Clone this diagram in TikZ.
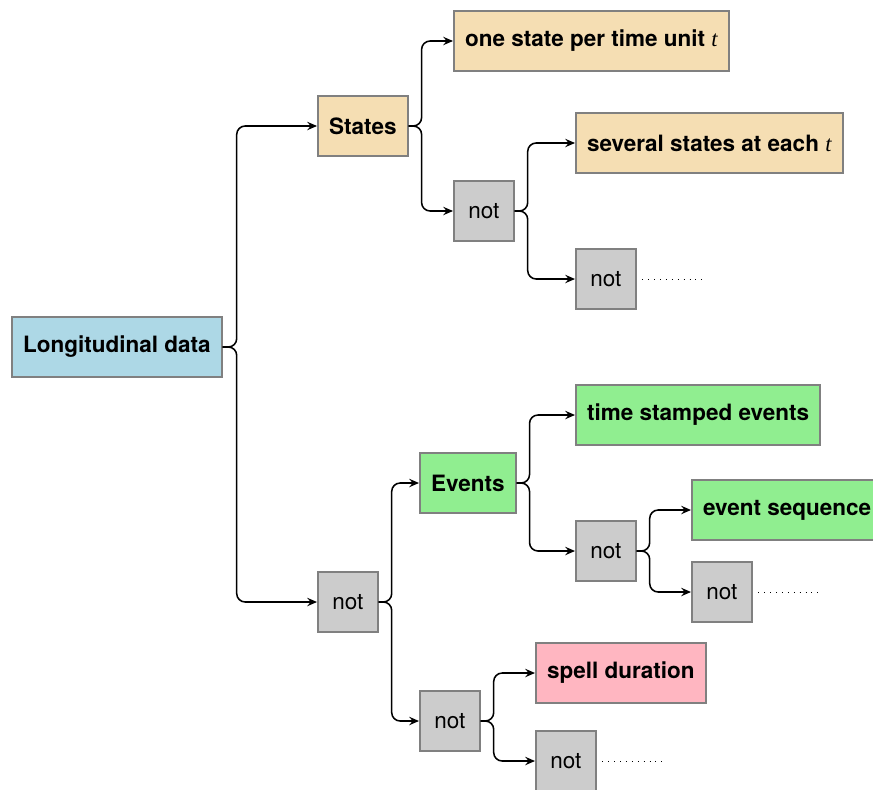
\documentclass[tikz,border=0pt]{standalone}
\usepackage{fontspec}
\setmainfont{TeX Gyre Heros}
\newfontfamily\timefont{Liberation Serif}
\usetikzlibrary{arrows.meta}
\definecolor{statefill}{HTML}{F5DEB3}
\definecolor{rootfill}{HTML}{ADD8E6}
\definecolor{eventfill}{HTML}{90EE90}
\definecolor{spellfill}{HTML}{FFB6C1}
\definecolor{notfill}{HTML}{CCCCCC}
\newcommand{\tvar}{{\timefont\mdseries\itshape t}}
\tikzset{
  box/.style={draw=gray, line width=1.2pt, anchor=west, minimum height=1.5cm,
    minimum width=1.5cm, inner xsep=0.28cm,
    font=\fontsize{16}{19}\selectfont},
  kind/.style={box, font=\fontsize{16}{19}\selectfont\bfseries},
  notbox/.style={box, fill=notfill},
  link/.style={-{Stealth[length=7pt,width=6pt,inset=2.5pt]}, line width=1.1pt, rounded corners=6pt},
  more/.style={line width=0.6pt, dash pattern=on 0.6pt off 3.6pt, shorten <=4pt}
}
\begin{document}
\begin{tikzpicture}[x=0.025cm, y=-0.025cm]
  \useasboundingbox (0,0) rectangle (873,789);
  \node[kind, fill=rootfill] (root) at (11,347) {Longitudinal data};
  % states branch
  \node[kind, fill=statefill] (states) at (317,126) {States};
  \node[kind, fill=statefill] (onestate) at (453,41) {one state per time unit \tvar};
  \node[notbox] (notS) at (453,211) {not};
  \node[kind, fill=statefill] (several) at (575,143) {several states at each \tvar};
  \node[notbox] (notSS) at (575,279) {not};
  \coordinate (endSS) at (703,279);
  % events branch
  \node[notbox] (notR) at (317,602) {not};
  \node[kind, fill=eventfill] (events) at (419,483) {Events};
  \node[kind, fill=eventfill] (stamped) at (575,415) {time stamped events};
  \node[notbox] (notE) at (575,551) {not};
  \node[kind, fill=eventfill] (sequence) at (691,510) {event sequence};
  \node[notbox] (notEE) at (691,592) {not};
  \coordinate (endEE) at (818,592);
  % spells
  \node[notbox] (notN) at (419,721) {not};
  \node[kind, fill=spellfill] (spell) at (535,673) {spell duration};
  \node[notbox] (notNN) at (535,761) {not};
  \coordinate (endNN) at (662,761);

  \draw[link] (root.east) -- ++(14,0) |- (states.west);
  \draw[link] (root.east) -- ++(14,0) |- (notR.west);
  \draw[link] (states.east) -- ++(13,0) |- (onestate.west);
  \draw[link] (states.east) -- ++(13,0) |- (notS.west);
  \draw[link] (notS.east) -- ++(13,0) |- (several.west);
  \draw[link] (notS.east) -- ++(13,0) |- (notSS.west);
  \draw[link] (notR.east) -- ++(13,0) |- (events.west);
  \draw[link] (notR.east) -- ++(13,0) |- (notN.west);
  \draw[link] (events.east) -- ++(13,0) |- (stamped.west);
  \draw[link] (events.east) -- ++(13,0) |- (notE.west);
  \draw[link] (notE.east) -- ++(13,0) |- (sequence.west);
  \draw[link] (notE.east) -- ++(13,0) |- (notEE.west);
  \draw[link] (notN.east) -- ++(13,0) |- (spell.west);
  \draw[link] (notN.east) -- ++(13,0) |- (notNN.west);
  \draw[more] (notSS.east) -- (endSS);
  \draw[more] (notEE.east) -- (endEE);
  \draw[more] (notNN.east) -- (endNN);
\end{tikzpicture}
\end{document}
